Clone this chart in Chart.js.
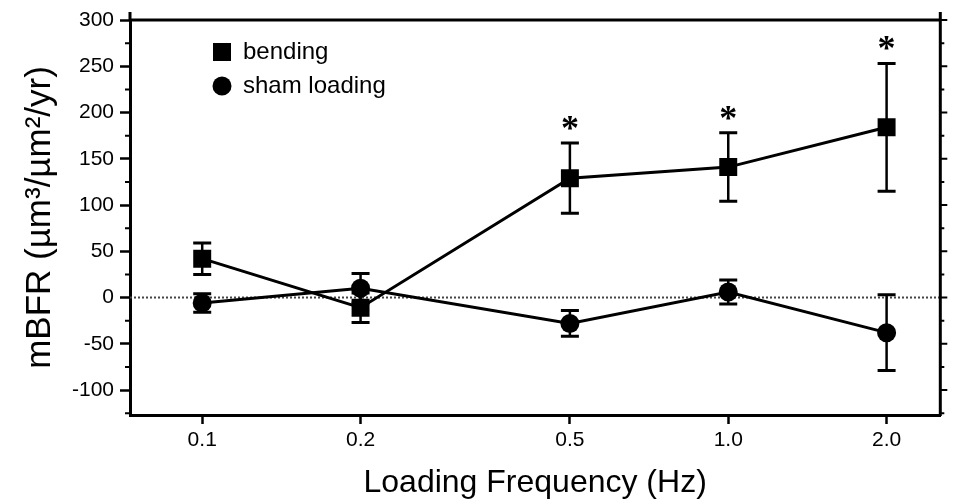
<!DOCTYPE html>
<html><head><meta charset="utf-8">
<script src="https://cdn.jsdelivr.net/npm/chart.js@4.4.1/dist/chart.umd.min.js"></script>
<style>html,body{margin:0;padding:0;background:#fff}#wrap{width:953px;height:504px}</style>
</head><body><div id="wrap"><canvas id="c" width="953" height="504"></canvas></div>
<script>
const frequencies = [0.1, 0.2, 0.5, 1.0, 2.0];
const xTickLabels = ['0.1', '0.2', '0.5', '1.0', '2.0'];
const yTickValues = [-100, -50, 0, 50, 100, 150, 200, 250, 300];
const yMinorTickValues = [-125, -75, -25, 25, 75, 125, 175, 225, 275];
const bendingMean = [42, -11, 129, 141, 184];
const bendingSEM = [17, 16, 38, 37, 69];
const shamMean = [-6, 10, -28, 6, -38];
const shamSEM = [10, 16, 14, 13, 41];
const bendingSignificant = [false, false, true, true, true];
const seriesLabels = ['bending', 'sham loading'];
const xAxisTitle = 'Loading Frequency (Hz)';
const yAxisTitle = 'mBFR (µm³/µm²/yr)';

const FONT = "'Liberation Sans', Arial, Helvetica, sans-serif";
Chart.defaults.font.family = FONT;
Chart.defaults.color = '#000';

const decor = {
  id: 'decor',
  beforeDatasetsDraw(chart) {
    const {ctx, chartArea: a, scales: {x, y}} = chart;
    ctx.save();
    const y0 = y.getPixelForValue(0);
    ctx.strokeStyle = '#444';
    ctx.lineWidth = 2;
    ctx.setLineDash([2, 2]);
    ctx.beginPath(); ctx.moveTo(a.left, y0); ctx.lineTo(a.right, y0); ctx.stroke();
    ctx.setLineDash([]);
    ctx.strokeStyle = '#000';
    [[bendingMean, bendingSEM], [shamMean, shamSEM]].forEach(([m, e]) => {
      frequencies.forEach((f, i) => {
        const px = x.getPixelForValue(f);
        const top = y.getPixelForValue(m[i] + e[i]);
        const bot = y.getPixelForValue(m[i] - e[i]);
        ctx.lineWidth = 2.5;
        ctx.beginPath(); ctx.moveTo(px, top); ctx.lineTo(px, bot); ctx.stroke();
        ctx.lineWidth = 3;
        ctx.beginPath();
        ctx.moveTo(px - 9, top); ctx.lineTo(px + 9, top);
        ctx.moveTo(px - 9, bot); ctx.lineTo(px + 9, bot);
        ctx.stroke();
      });
    });
    ctx.restore();
  },
  afterDraw(chart) {
    const {ctx, chartArea: a, scales: {x, y}} = chart;
    ctx.save();
    ctx.strokeStyle = '#000';
    ctx.fillStyle = '#000';
    ctx.lineWidth = 3;
    ctx.beginPath();
    ctx.moveTo(a.left, a.top); ctx.lineTo(a.right, a.top);
    ctx.moveTo(a.right, a.top - 8); ctx.lineTo(a.right, a.bottom + 1);
    ctx.moveTo(a.left, a.top - 8); ctx.lineTo(a.left, a.top);
    ctx.stroke();
    ctx.lineWidth = 2;
    ctx.beginPath();
    yMinorTickValues.forEach(v => {
      const py = y.getPixelForValue(v);
      ctx.moveTo(a.left - 5, py); ctx.lineTo(a.left, py);
      ctx.moveTo(a.right, py); ctx.lineTo(a.right + 4, py);
    });
    yTickValues.forEach(v => {
      const py = y.getPixelForValue(v);
      ctx.moveTo(a.right, py); ctx.lineTo(a.right + 7, py);
    });
    ctx.stroke();
    ctx.font = "bold 36px 'Liberation Serif', 'Times New Roman', serif";
    ctx.textAlign = 'center';
    ctx.textBaseline = 'alphabetic';
    frequencies.forEach((f, i) => {
      if (!bendingSignificant[i]) return;
      const px = x.getPixelForValue(f);
      const top = y.getPixelForValue(bendingMean[i] + bendingSEM[i]);
      ctx.fillText('*', px, top - 3);
    });
    const lx = 222;
    const rows = [52, 86];
    ctx.fillRect(lx - 9, rows[0] - 9, 18, 18);
    ctx.beginPath(); ctx.arc(lx, rows[1], 9.5, 0, Math.PI * 2); ctx.fill();
    ctx.font = '24px ' + FONT;
    ctx.textAlign = 'left';
    ctx.textBaseline = 'middle';
    ctx.fillText(seriesLabels[0], 243, rows[0]);
    ctx.fillText(seriesLabels[1], 243, rows[1]);
    ctx.restore();
  }
};

new Chart(document.getElementById('c'), {
  type: 'scatter',
  data: {
    datasets: [
      {
        label: seriesLabels[0],
        data: frequencies.map((f, i) => ({x: f, y: bendingMean[i]})),
        showLine: true,
        borderColor: '#000',
        backgroundColor: '#000',
        borderWidth: 3,
        pointStyle: 'rect',
        pointRadius: 12.7,
        pointBorderWidth: 0,
        pointHoverRadius: 12.7
      },
      {
        label: seriesLabels[1],
        data: frequencies.map((f, i) => ({x: f, y: shamMean[i]})),
        showLine: true,
        borderColor: '#000',
        backgroundColor: '#000',
        borderWidth: 3,
        pointStyle: 'circle',
        pointRadius: 9.5,
        pointBorderWidth: 0,
        pointHoverRadius: 9.5
      }
    ]
  },
  options: {
    responsive: false,
    animation: false,
    events: [],
    layout: {padding: {left: 0, right: 10, top: 20, bottom: 0}},
    plugins: {legend: {display: false}, tooltip: {enabled: false}},
    scales: {
      x: {
        type: 'logarithmic',
        min: 0.0729,
        max: 2.53,
        afterBuildTicks: s => { s.ticks = frequencies.map(v => ({value: v})); },
        afterFit: s => { s.height = 89; },
        grid: {display: true, drawOnChartArea: false, drawTicks: true, tickLength: 9, tickColor: '#000', tickWidth: 2.5},
        border: {display: true, color: '#000', width: 3},
        ticks: {
          font: {size: 21}, color: '#000', padding: 4, autoSkip: false, maxRotation: 0,
          callback: v => xTickLabels[frequencies.indexOf(v)]
        },
        title: {display: true, text: xAxisTitle, font: {size: 32}, color: '#000', padding: {top: 0, bottom: 2}}
      },
      y: {
        type: 'linear',
        min: -127,
        max: 300,
        afterBuildTicks: s => { s.ticks = yTickValues.map(v => ({value: v})); },
        afterFit: s => { s.width = 130; },
        grid: {display: true, drawOnChartArea: false, drawTicks: true, tickLength: 10, tickColor: '#000', tickWidth: 2.5},
        border: {display: true, color: '#000', width: 3},
        ticks: {font: {size: 21}, color: '#000', padding: 6, callback: v => String(v)},
        title: {display: true, text: yAxisTitle, font: {size: 35}, color: '#000', padding: {top: 19, bottom: 0}}
      }
    }
  },
  plugins: [decor]
});
</script>
</body></html>
